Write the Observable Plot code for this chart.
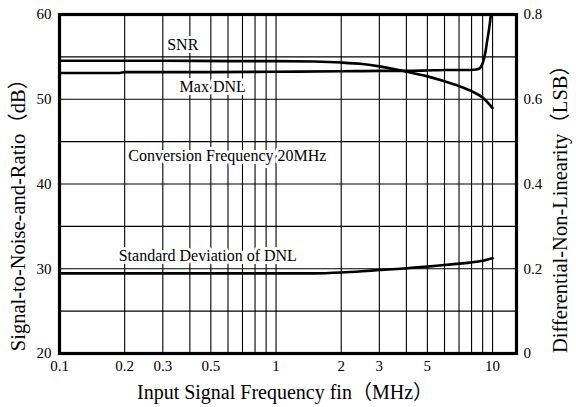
<!DOCTYPE html>
<html><head><meta charset="utf-8">
<script src="https://cdn.jsdelivr.net/npm/d3@7"></script>
<script src="https://cdn.jsdelivr.net/npm/@observablehq/plot@0.6"></script>
<style>
html,body{margin:0;padding:0;background:#fff;}
</style>
</head><body><div id="chart"></div>
<script>
// Axis ticks and labels
const xTicks = [0.1, 0.2, 0.3, 0.5, 1, 2, 3, 5, 10];
const xTickLabels = ["0.1", "0.2", "0.3", "0.5", "1", "2", "3", "5", "10"];
const xGrid = [0.2, 0.3, 0.4, 0.5, 0.6, 0.7, 0.8, 0.9, 1, 2, 3, 4, 5, 6, 7, 8, 9, 10];
const yTicks = [20, 30, 40, 50, 60];
const rightTickLabels = ["0", "0.2", "0.4", "0.6", "0.8"];
const yGrid = [25, 30, 35, 40, 45, 50, 55];

// SNR (dB, left axis)
const snrFreq = [0.1, 0.3, 0.6, 1, 1.5, 2, 2.5, 3, 4, 5, 6, 7, 8, 9, 10];
const snrDb   = [54.55, 54.55, 54.5, 54.5, 54.45, 54.33, 54.15, 53.88, 53.25, 52.7, 52.12, 51.55, 50.95, 50.2, 48.95];

// Max DNL (LSB, right axis)
const maxDnlFreq = [0.1, 0.19, 0.2, 0.5, 1, 2, 3, 4, 5, 6, 7, 8, 8.4, 8.76, 9.0, 9.14, 9.3, 9.43, 9.6, 9.8, 9.95];
const maxDnlLsb  = [0.662, 0.662, 0.664, 0.664, 0.665, 0.666, 0.667, 0.667, 0.668, 0.669, 0.669, 0.669, 0.670, 0.674, 0.685, 0.697, 0.715, 0.736, 0.76, 0.795, 0.83];

// Standard deviation of DNL (LSB, right axis)
const sdDnlFreq = [0.1, 1, 1.5, 2, 2.5, 3, 4, 5, 6, 7, 8, 9, 10];
const sdDnlLsb  = [0.189, 0.189, 0.189, 0.191, 0.194, 0.197, 0.201, 0.205, 0.209, 0.212, 0.215, 0.219, 0.225];

// Annotations
const annText = ["SNR", "Max DNL", "Conversion Frequency 20MHz", "Standard Deviation of DNL"];
const annFreq = [0.371, 0.51, 0.596, 0.484];
const annDb   = [56.4, 51.5, 43.3, 31.5];

const xTitle = "Input Signal Frequency fin（MHz）";
const yLeftTitle = "Signal-to-Noise-and-Ratio（dB）";
const yRightTitle = "Differential-Non-Linearity（LSB）";

// right axis: 0..0.8 LSB maps onto 20..60 dB
const lsbToDb = v => 20 + v * 50;

const snr = snrFreq.map((f, i) => ({f, v: snrDb[i]}));
const maxDnl = maxDnlFreq.map((f, i) => ({f, v: lsbToDb(maxDnlLsb[i])}));
const sdDnl = sdDnlFreq.map((f, i) => ({f, v: lsbToDb(sdDnlLsb[i])}));
const ann = annText.map((t, i) => ({t, f: annFreq[i], v: annDb[i]}));

const font = "'Liberation Serif', 'Times New Roman', 'Noto Sans CJK JP', serif";

const chart = Plot.plot({
  width: 576,
  height: 407,
  marginLeft: 59,
  marginRight: 60,
  marginTop: 14,
  marginBottom: 54,
  x: {type: "log", domain: [0.1, 12.9]},
  y: {domain: [20, 60]},
  style: {fontFamily: font, fontSize: "15px", background: "#fff", color: "#000"},
  marks: [
    Plot.ruleX(xGrid, {stroke: "#000", strokeWidth: 1.1}),
    Plot.ruleY(yGrid, {stroke: "#000", strokeWidth: 1.1}),
    Plot.line(snr, {x: "f", y: "v", stroke: "#000", strokeWidth: 2.6, curve: "monotone-x"}),
    Plot.line(maxDnl, {x: "f", y: "v", stroke: "#000", strokeWidth: 2.6, curve: "monotone-x", clip: true}),
    Plot.line(sdDnl, {x: "f", y: "v", stroke: "#000", strokeWidth: 2.6, curve: "monotone-x"}),
    Plot.text(ann, {x: "f", y: "v", text: "t", fontSize: 16, fontFamily: font, fill: "#000", stroke: "#fff", strokeWidth: 6}),
    Plot.frame({stroke: "#000", strokeWidth: 3.2}),
    Plot.axisX({ticks: xTicks, tickFormat: d => xTickLabels[xTicks.indexOf(d)], tickSize: 0, tickPadding: 7, label: null, fontSize: 15, fontFamily: font}),
    Plot.axisY({anchor: "left", ticks: yTicks, tickFormat: d => String(d), tickSize: 0, tickPadding: 8, label: null, fontSize: 15, fontFamily: font}),
    Plot.axisY({anchor: "right", ticks: yTicks, tickFormat: d => rightTickLabels[yTicks.indexOf(d)], tickSize: 0, tickPadding: 7, label: null, fontSize: 15, fontFamily: font}),
    Plot.text([xTitle], {frameAnchor: "bottom", textAnchor: "middle", dx: -3, dy: 45, fontSize: 20, fontFamily: font, lineAnchor: "bottom"}),
    Plot.text([yLeftTitle], {frameAnchor: "left", textAnchor: "middle", rotate: -90, dx: -41, dy: 26, fontSize: 20.5, fontFamily: font}),
    Plot.text([yRightTitle], {frameAnchor: "right", textAnchor: "middle", rotate: -90, dx: 44, dy: 20, fontSize: 20.5, fontFamily: font})
  ]
});
document.getElementById("chart").appendChild(chart);
</script>
</body></html>
